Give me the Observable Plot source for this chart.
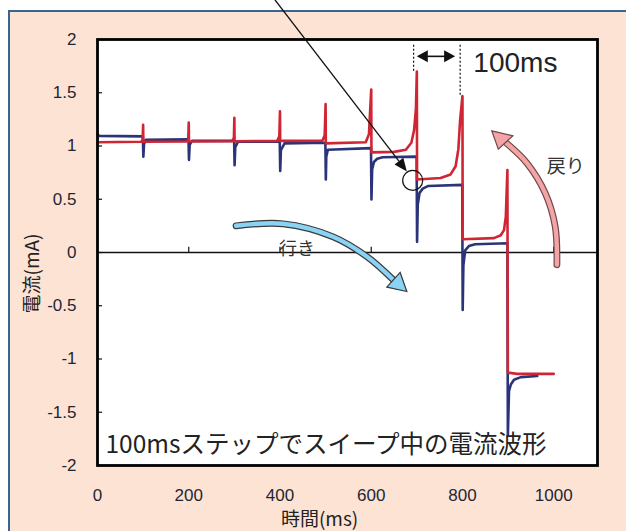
<!DOCTYPE html>
<html><head><meta charset="utf-8">
<script src="https://cdn.jsdelivr.net/npm/d3@7"></script>
<script src="https://cdn.jsdelivr.net/npm/@observablehq/plot@0.6"></script>
<style>
html,body{margin:0;padding:0;background:#fff;width:626px;height:531px;overflow:hidden;}
#panel{position:absolute;left:8px;top:10px;width:700px;height:600px;box-sizing:border-box;border:2.5px solid #3a6494;background:#fce3d4;}
#chart{position:absolute;left:0;top:0;}
</style></head><body>
<div id="panel"></div><div id="chart"></div>
<script>
// ---- data (time in ms, current in mA) ----
const blueT = [0, 4, 99.5, 100.5, 102, 106, 199.5, 200.5, 202, 207, 299.5, 300.5, 302, 308, 399.5, 400.5, 402, 410, 499.5, 500.5, 501.5, 505, 599.5, 600.5, 602, 606, 613, 625, 699.5, 700.5, 702, 706, 713, 725, 799.5, 800.5, 802, 806, 814, 828, 898.5, 899.5, 902, 906, 913, 928, 964];
const blueI = [1.11, 1.095, 1.09, 0.90, 1.02, 1.058, 1.062, 0.87, 1.01, 1.048, 1.05, 0.82, 0.99, 1.04, 1.04, 0.765, 0.96, 1.025, 1.03, 0.686, 0.90, 0.965, 0.98, 0.497, 0.78, 0.85, 0.88, 0.895, 0.90, 0.10, 0.45, 0.56, 0.60, 0.625, 0.635, -0.54, -0.12, 0.02, 0.06, 0.078, 0.087, -1.72, -1.30, -1.24, -1.195, -1.17, -1.16];
const redT = [0, 96, 99, 100, 100.5, 196, 199, 200, 200.5, 295, 299, 300, 300.5, 394, 398.5, 400, 400.5, 493, 498, 500, 500.5, 588, 595, 600, 600.5, 650, 676, 688, 694, 698, 700, 700.5, 752, 774, 785, 791, 795, 800, 800.5, 869, 884, 891, 895, 898.5, 899.5, 920, 1000];
const redI = [1.035, 1.04, 1.06, 1.20, 1.04, 1.042, 1.065, 1.22, 1.042, 1.045, 1.075, 1.265, 1.045, 1.048, 1.09, 1.325, 1.048, 1.05, 1.10, 1.395, 1.025, 1.035, 1.11, 1.53, 0.94, 0.945, 0.965, 1.03, 1.15, 1.35, 1.70, 0.686, 0.70, 0.733, 0.81, 0.97, 1.25, 1.47, 0.125, 0.135, 0.162, 0.21, 0.334, 0.774, -1.128, -1.14, -1.14];
const xTicks = [0, 200, 400, 600, 800, 1000];
const yTicks = [-2, -1.5, -1, -0.5, 0, 0.5, 1, 1.5, 2];
const xTitle = "時間(ms)";
const yTitle = "電流(mA)";
const caption = "100msステップでスイープ中の電流波形";
const goLabel = "行き", backLabel = "戻り", stepLabel = "100ms";

// annotation anchors (data coordinates)
const pointerT = [390, 679.2], pointerV = [2.368, 0.756];
const circleT = 692, circleV = 0.672;
const dimLineT = [694, 796], dimTopV = 1.947, dimBottomV = [1.686, 1.461];
const dimArrowT = [701, 785], dimArrowV = 1.837;
const goShaftT = [304.8, 407.9, 517.5, 592.1, 649.3], goShaftV = [0.246, 0.265, 0.143, -0.045, -0.261];
const goHeadT = [635.3, 679.2, 664.5], goHeadV = [-0.330, -0.371, -0.192];
const backShaftT = [1008.1, 1004.4, 982.5, 942.3, 895.8], backShaftV = [-0.120, 0.239, 0.553, 0.835, 1.028];
const backHeadT = [879.6, 865.3, 911.6], backHeadV = [0.966, 1.138, 1.091];
const labelPos = {go: [437.5, 0.03], back: [1026.3, 0.805], step: [823.9, 1.781], caption: [17.5, -1.81], xTitle: [486.8, -2.507], yTitle: [-142.5, -0.197]};

const blue = blueT.map((t, i) => ({t, v: blueI[i]}));
const red = redT.map((t, i) => ({t, v: redI[i]}));

function annotations(index, scales) {
  const {x, y} = scales;
  const g = d3.create("svg:g");
  // pointer line with arrowhead + circle
  const p0 = [x(pointerT[0]), y(pointerV[0])], p1 = [x(pointerT[1]), y(pointerV[1])];
  const ang = Math.atan2(p1[1] - p0[1], p1[0] - p0[0]);
  const L = 13, W = 5.5;
  const bx = p1[0] - L * Math.cos(ang), by = p1[1] - L * Math.sin(ang);
  g.append("line").attr("x1", p0[0]).attr("y1", p0[1]).attr("x2", bx).attr("y2", by).attr("stroke", "#111").attr("stroke-width", 1.3);
  g.append("path").attr("d", `M${p1[0]},${p1[1]}L${bx - W * Math.sin(ang)},${by + W * Math.cos(ang)}L${bx + W * Math.sin(ang)},${by - W * Math.cos(ang)}Z`).attr("fill", "#111");
  g.append("circle").attr("cx", x(circleT)).attr("cy", y(circleV)).attr("r", 10).attr("fill", "none").attr("stroke", "#111").attr("stroke-width", 1.2);
  // 100ms dimension
  dimLineT.forEach((t, i) => {
    g.append("line").attr("x1", x(t)).attr("x2", x(t)).attr("y1", y(dimTopV)).attr("y2", y(dimBottomV[i]))
      .attr("stroke", "#111").attr("stroke-width", 1.2).attr("stroke-dasharray", "2,2");
  });
  const ay = y(dimArrowV), ax0 = x(dimArrowT[0]), ax1 = x(dimArrowT[1]);
  g.append("line").attr("x1", ax0 + 8).attr("x2", ax1 - 8).attr("y1", ay).attr("y2", ay).attr("stroke", "#111").attr("stroke-width", 1.6);
  g.append("path").attr("d", `M${ax0},${ay}L${ax0 + 11},${ay - 6}L${ax0 + 11},${ay + 6}Z`).attr("fill", "#111");
  g.append("path").attr("d", `M${ax1},${ay}L${ax1 - 11},${ay - 6}L${ax1 - 11},${ay + 6}Z`).attr("fill", "#111");
  // curved arrows
  const line = d3.line().curve(d3.curveCatmullRom.alpha(0.5));
  function curvedArrow(ts, vs, hts, hvs, fill, edge) {
    const pts = ts.map((t, i) => [x(t), y(vs[i])]);
    g.append("path").attr("d", line(pts)).attr("fill", "none").attr("stroke", edge).attr("stroke-width", 6.8).attr("stroke-linecap", "round");
    g.append("path").attr("d", line(pts)).attr("fill", "none").attr("stroke", fill).attr("stroke-width", 4.4).attr("stroke-linecap", "round");
    const hp = hts.map((t, i) => [x(t), y(hvs[i])]);
    g.append("path").attr("d", "M" + hp.map(p => p.join(",")).join("L") + "Z").attr("fill", fill).attr("stroke", edge).attr("stroke-width", 1.2).attr("stroke-linejoin", "miter");
  }
  curvedArrow(goShaftT, goShaftV, goHeadT, goHeadV, "#8ad3f4", "#3a3a3a");
  curvedArrow(backShaftT, backShaftV, backHeadT, backHeadV, "#f4a4a6", "#6e4a4a");
  return g.node();
}

const cjk = "'Noto Sans CJK JP', sans-serif";
const latin = "'Liberation Sans', Arial, sans-serif";

const chart = Plot.plot({
  width: 626, height: 531,
  marginLeft: 97, marginRight: 29, marginTop: 39, marginBottom: 66,
  x: {domain: [0, 1096]},
  y: {domain: [-2, 2]},
  style: {background: "transparent", overflow: "visible", color: "#222"},
  marks: [
    Plot.frame({fill: "white", stroke: null}),
    Plot.ruleY([0], {stroke: "#111", strokeWidth: 1.4}),
    Plot.ruleX(xTicks, {y1: 0, y2: 0.05, stroke: "#111", strokeWidth: 1.2}),
    Plot.ruleY(yTicks, {x1: 0, x2: 11, stroke: "#111", strokeWidth: 1.2}),
    Plot.line(blue, {x: "t", y: "v", stroke: "#2b3479", strokeWidth: 2.6, strokeLinejoin: "round"}),
    Plot.line(red, {x: "t", y: "v", stroke: "#d02533", strokeWidth: 2.6, strokeLinejoin: "round"}),
    Plot.frame({stroke: "#000", strokeWidth: 2.8}),
    Plot.text([caption], {x: () => labelPos.caption[0], y: () => labelPos.caption[1], text: d => d, textAnchor: "start", fontSize: 24.5, fontFamily: cjk, fill: "#222"}),
    annotations,
    Plot.text([stepLabel], {x: () => labelPos.step[0], y: () => labelPos.step[1], text: d => d, textAnchor: "start", fontSize: 28, fontFamily: latin, fill: "#222"}),
    Plot.text([goLabel], {x: () => labelPos.go[0], y: () => labelPos.go[1], text: d => d, fontSize: 18, fontFamily: cjk, fill: "#333"}),
    Plot.text([backLabel], {x: () => labelPos.back[0], y: () => labelPos.back[1], text: d => d, fontSize: 19, fontFamily: cjk, fill: "#333"}),
    Plot.axisX({ticks: xTicks, anchor: "bottom", tickSize: 0, tickPadding: 23, fontSize: 17, fontFamily: latin, label: null, tickFormat: d => String(d), fill: "#1f2633"}),
    Plot.axisY({ticks: yTicks, anchor: "left", tickSize: 0, tickPadding: 21, fontSize: 17, fontFamily: latin, label: null, tickFormat: d => String(d), fill: "#1f2633"}),
    Plot.text([xTitle], {x: () => labelPos.xTitle[0], y: () => labelPos.xTitle[1], text: d => d, fontSize: 19, fontFamily: cjk, fill: "#222"}),
    Plot.text([yTitle], {x: () => labelPos.yTitle[0], y: () => labelPos.yTitle[1], text: d => d, rotate: -90, fontSize: 19, fontFamily: cjk, fill: "#222"})
  ]
});
document.getElementById("chart").append(chart);
</script></body></html>
